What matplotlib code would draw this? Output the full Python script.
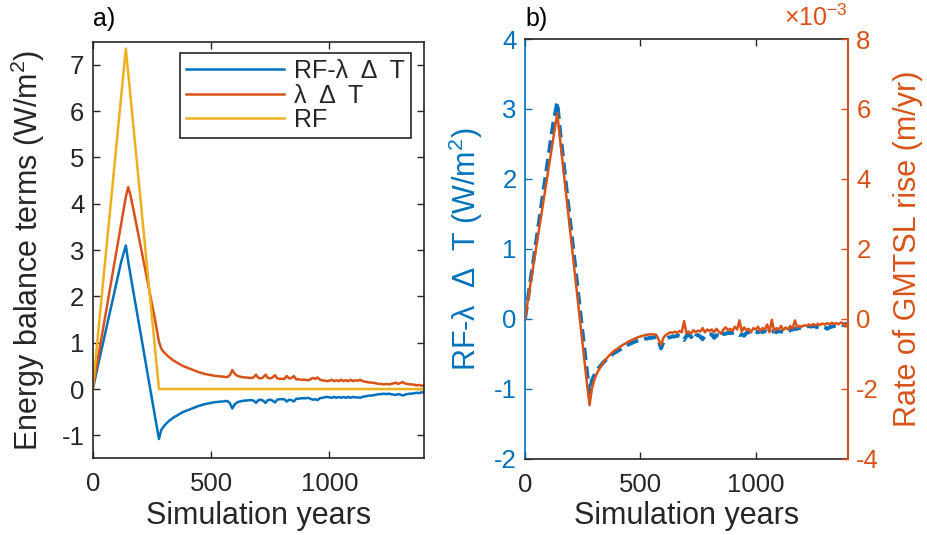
import numpy as np
import matplotlib
matplotlib.use('Agg')
import matplotlib.pyplot as plt

plt.rcParams['font.family'] = ['Liberation Sans', 'DejaVu Sans']
plt.rcParams['mathtext.fontset'] = 'custom'
plt.rcParams['mathtext.rm'] = 'Liberation Sans'
plt.rcParams['mathtext.it'] = 'Liberation Sans:italic'
plt.rcParams['axes.unicode_minus'] = False

# Simulation years (every 10 years)
years = np.arange(0, 1401, 10)

# Radiative forcing (W/m2): key points only
rf_years = [0, 140, 280, 1400]
rf = [0.0, 7.35, 0.0, 0.0]

# lambda * Delta T (W/m2)
lam_dt = [0.00, 0.30, 0.59, 0.89, 1.19, 1.48, 1.78, 2.08, 2.37, 2.67,
          2.96, 3.26, 3.56, 3.86, 4.15, 4.36, 4.18, 3.93, 3.67, 3.41,
          3.15, 2.89, 2.63, 2.37, 2.11, 1.85, 1.59, 1.30, 1.02, 0.87,
          0.80, 0.75, 0.70, 0.66, 0.62, 0.59, 0.56, 0.53, 0.50, 0.48,
          0.46, 0.44, 0.42, 0.40, 0.38, 0.36, 0.35, 0.33, 0.32, 0.31,
          0.30, 0.29, 0.28, 0.28, 0.27, 0.27, 0.26, 0.26, 0.30, 0.41,
          0.33, 0.29, 0.27, 0.26, 0.25, 0.25, 0.24, 0.24, 0.25, 0.31,
          0.24, 0.23, 0.25, 0.31, 0.24, 0.23, 0.25, 0.30, 0.23, 0.22,
          0.22, 0.22, 0.28, 0.23, 0.24, 0.28, 0.21, 0.21, 0.20, 0.20,
          0.20, 0.19, 0.21, 0.24, 0.22, 0.25, 0.20, 0.19, 0.18, 0.17,
          0.18, 0.20, 0.17, 0.19, 0.17, 0.20, 0.17, 0.19, 0.17, 0.20,
          0.17, 0.19, 0.18, 0.20, 0.17, 0.16, 0.15, 0.14, 0.14, 0.13,
          0.12, 0.11, 0.11, 0.10, 0.11, 0.10, 0.11, 0.12, 0.14, 0.11,
          0.13, 0.15, 0.12, 0.11, 0.10, 0.10, 0.09, 0.08, 0.09, 0.07,
          0.08]

# RF - lambda * Delta T (W/m2)
net = [0.00, 0.22, 0.46, 0.68, 0.91, 1.14, 1.36, 1.59, 1.82, 2.05,
       2.28, 2.51, 2.74, 2.92, 3.10, 2.75, 2.45, 2.16, 1.86, 1.57,
       1.27, 0.98, 0.68, 0.39, 0.09, -0.20, -0.50, -0.79, -1.08, -0.88,
       -0.81, -0.75, -0.70, -0.66, -0.62, -0.59, -0.56, -0.53, -0.50, -0.48,
       -0.46, -0.44, -0.42, -0.40, -0.38, -0.36, -0.35, -0.33, -0.32, -0.31,
       -0.30, -0.29, -0.28, -0.28, -0.27, -0.27, -0.26, -0.26, -0.31, -0.42,
       -0.33, -0.29, -0.27, -0.26, -0.25, -0.25, -0.24, -0.24, -0.25, -0.30,
       -0.24, -0.23, -0.25, -0.30, -0.24, -0.23, -0.25, -0.29, -0.23, -0.22,
       -0.22, -0.22, -0.27, -0.23, -0.24, -0.27, -0.21, -0.21, -0.20, -0.20,
       -0.20, -0.19, -0.21, -0.23, -0.22, -0.24, -0.20, -0.19, -0.18, -0.17,
       -0.18, -0.19, -0.17, -0.19, -0.17, -0.19, -0.17, -0.19, -0.17, -0.19,
       -0.17, -0.18, -0.18, -0.19, -0.17, -0.16, -0.15, -0.14, -0.14, -0.13,
       -0.12, -0.11, -0.11, -0.10, -0.11, -0.10, -0.11, -0.12, -0.13, -0.11,
       -0.12, -0.14, -0.12, -0.11, -0.10, -0.10, -0.09, -0.08, -0.09, -0.07,
       -0.08]

# Rate of GMTSL rise (x 1e-3 m/yr)
gmtsl_rate = [0.00, 0.42, 0.84, 1.26, 1.68, 2.10, 2.52, 2.94, 3.36, 3.78,
              4.20, 4.62, 5.04, 5.46, 5.88, 5.28, 4.68, 4.08, 3.48, 2.88,
              2.28, 1.68, 1.08, 0.48, -0.12, -0.72, -1.32, -1.92, -2.46, -2.00,
              -1.75, -1.58, -1.45, -1.34, -1.25, -1.16, -1.08, -1.01, -0.95, -0.89,
              -0.86, -0.80, -0.76, -0.72, -0.68, -0.64, -0.61, -0.58, -0.55, -0.52,
              -0.50, -0.48, -0.46, -0.45, -0.44, -0.44, -0.44, -0.46, -0.60, -0.74,
              -0.54, -0.46, -0.42, -0.38, -0.40, -0.36, -0.40, -0.34, -0.38, -0.06,
              -0.40, -0.36, -0.42, -0.32, -0.38, -0.33, -0.36, -0.26, -0.38, -0.30,
              -0.34, -0.30, -0.38, -0.28, -0.36, -0.42, -0.30, -0.24, -0.32, -0.28,
              -0.34, -0.22, -0.30, -0.04, -0.36, -0.24, -0.32, -0.28, -0.38, -0.26,
              -0.30, -0.22, -0.34, -0.26, -0.30, -0.16, -0.38, -0.02, -0.34, -0.26,
              -0.30, -0.20, -0.32, -0.24, -0.30, -0.20, -0.28, -0.04, -0.24, -0.20,
              -0.22, -0.18, -0.20, -0.16, -0.19, -0.15, -0.18, -0.14, -0.17, -0.13,
              -0.16, -0.12, -0.15, -0.11, -0.14, -0.12, -0.15, -0.10, -0.13, -0.22,
              -0.10]

blue = '#0072BD'
orange = '#D95319'
yellow = '#EDB120'
dark = '#262626'

tick_fs = 18.5
label_fs = 22

fig = plt.figure(figsize=(9.27, 5.35), dpi=100)

# ---- panel a ----
ax1 = fig.add_axes([0.1000, 0.1430, 0.3574, 0.7791])
ax1.plot(years, net, color=blue, lw=1.8, label='RF-λ  Δ  T')
ax1.plot(years, lam_dt, color=orange, lw=1.8, label='λ  Δ  T')
ax1.plot(rf_years, rf, color=yellow, lw=1.8, label='RF')
ax1.set_xlim(0, 1400)
ax1.set_ylim(-1.5, 7.5)
ax1.set_xticks([0, 500, 1000])
ax1.set_yticks([-1, 0, 1, 2, 3, 4, 5, 6, 7])
ax1.tick_params(direction='in', length=5, width=1, labelsize=tick_fs, colors=dark,
                top=True, right=True)
ax1.tick_params(axis='x', pad=10)
ax1.tick_params(axis='y', pad=6)
for s in ax1.spines.values():
    s.set_color(dark)
    s.set_linewidth(1.2)
ax1.set_xlabel('Simulation years', fontsize=label_fs, color=dark, labelpad=3)
ax1.set_ylabel('Energy balance terms (W/m$^2$)', fontsize=label_fs, color=dark)
ax1.yaxis.set_label_coords(-0.138, 0.5)
ax1.text(0.0, 1.025, 'a)', transform=ax1.transAxes, fontsize=18, color='black',
         ha='left', va='bottom')
leg = ax1.legend(loc='upper right', bbox_to_anchor=(0.961, 0.973), borderaxespad=0,
                 fontsize=18, handlelength=3.9, handletextpad=0.4, labelspacing=0.02,
                 borderpad=0.25, fancybox=False, framealpha=1, edgecolor=dark)
leg.get_frame().set_linewidth(1.2)
for t in leg.get_texts():
    t.set_color(dark)

# ---- panel b ----
ax2 = fig.add_axes([0.5663, 0.1421, 0.3484, 0.7850])
ax2.plot(years, net, color=blue, lw=2.8, linestyle=(0, (3.2, 1.6)))
ax2.set_xlim(0, 1400)
ax2.set_ylim(-2, 4)
ax2.set_xticks([0, 500, 1000])
ax2.set_yticks([-2, -1, 0, 1, 2, 3, 4])
ax2.tick_params(axis='x', direction='in', length=5, width=1, labelsize=tick_fs,
                colors=dark, top=True, pad=10)
ax2.tick_params(axis='y', direction='in', length=5, width=1, labelsize=tick_fs,
                colors=blue, right=False, pad=6)
for s in ax2.spines.values():
    s.set_color(dark)
    s.set_linewidth(1.2)
ax2.spines['left'].set_color(blue)
ax2.set_xlabel('Simulation years', fontsize=label_fs, color=dark, labelpad=3)
ax2.set_ylabel('RF-λ  Δ  T (W/m$^2$)', fontsize=label_fs, color=blue)
ax2.yaxis.set_label_coords(-0.124, 0.5)
ax2.text(0.0, 1.02, 'b)', transform=ax2.transAxes, fontsize=18, color='black',
         ha='left', va='bottom')

ax3 = ax2.twinx()
ax3.plot(years, gmtsl_rate, color=orange, lw=1.8)
ax3.set_ylim(-4, 8)
ax3.set_yticks([-4, -2, 0, 2, 4, 6, 8])
ax3.tick_params(axis='y', direction='in', length=5, width=1, labelsize=tick_fs,
                colors=orange, pad=6)
ax3.spines['right'].set_color(orange)
ax3.spines['right'].set_linewidth(1.2)
ax3.spines['left'].set_visible(False)
ax3.spines['top'].set_visible(False)
ax3.spines['bottom'].set_visible(False)
ax3.set_ylabel('Rate of GMTSL rise (m/yr)', fontsize=label_fs, color=orange)
ax3.yaxis.set_label_coords(1.139, 0.5)
ax3.text(1.0, 1.03, '×10$^{-3}$', transform=ax3.transAxes, fontsize=18,
         color=orange, ha='right', va='baseline')

fig.savefig('out.png', dpi=100)
